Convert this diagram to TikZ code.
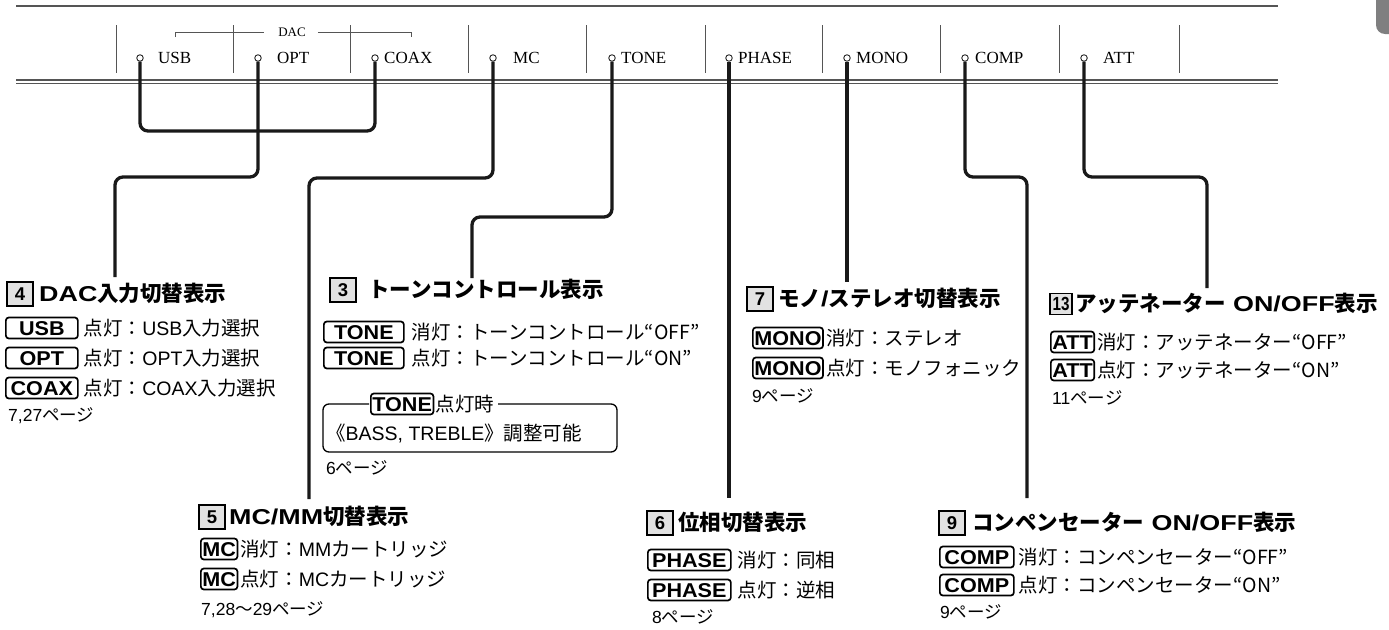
\documentclass[tikz,border=0pt]{standalone}
\usepackage{fontspec}
\setmainfont{Liberation Sans}
\newfontfamily\jpf{Noto Sans CJK JP}
\newfontfamily\serf{Liberation Serif}
\newfontfamily\keyf{Liberation Sans}[FakeStretch=1.08]
\newfontfamily\ttlf{Liberation Sans}[FakeStretch=1.25]
\newfontfamily\narf{Liberation Sans}[FakeStretch=0.8]
\newcommand\JP[1]{{\jpf #1}}
\definecolor{linegray}{HTML}{555555}
\definecolor{tabgray}{HTML}{7F7F80}
\definecolor{numfill}{HTML}{E2E2E2}
\tikzset{
 conn/.style={line width=3.3pt, rounded corners=8pt, black!90},
 rule/.style={line width=1.3pt, linegray},
 sep/.style={line width=0.9pt, linegray},
 led/.style={circle, draw=black!85, line width=0.9pt, inner sep=0pt, minimum size=6.5pt},
 lab/.style={font=\serf\fontsize{17}{18}\selectfont, inner sep=0pt, anchor=west, text height=11pt, text depth=0pt},
 key/.style={draw, line width=1.7pt, rounded corners=3pt, anchor=west, font=\keyf\bfseries\fontsize{20}{22}\selectfont, inner xsep=1.5pt, inner ysep=3.3pt, text height=14.4pt, text depth=0pt},
 body/.style={font=\fontsize{19.5}{21}\selectfont, inner sep=0pt, anchor=west, text height=14pt, text depth=0pt},
 num/.style={draw, fill=numfill, line width=1.3pt, font=\bfseries\fontsize{18.5}{20}\selectfont, minimum width=26pt, minimum height=24pt, inner sep=0pt},
 ttl/.style={font=\ttlf\bfseries\fontsize{21.5}{24}\selectfont, inner sep=0pt, anchor=west, text height=15pt, text depth=0pt},
 pg/.style={font=\fontsize{17.5}{19}\selectfont, inner sep=0pt, anchor=west, text height=12.5pt, text depth=0pt},
 frame/.style={line width=1.3pt, rounded corners=6pt},
}
\begin{document}
\begin{tikzpicture}[x=1pt,y=-1pt]
\useasboundingbox (0,0) rectangle (1389,629);
\begin{scope}
\clip (0,0) rectangle (1389,629);
\fill[tabgray, rounded corners=9pt] (1376,-20) rectangle (1420,34);
\end{scope}
% panel rules
\draw[rule] (16,6) -- (1278,6);
\draw[rule, line width=1.1pt] (16,80) -- (1278,80);
\draw[rule, line width=1.1pt] (16,83.5) -- (1278,83.5);
\foreach \x in {116,233,350,468,586,705,822,940,1059,1179} \draw[sep] (\x,25) -- (\x,73);
% DAC bracket
\node[font=\serf\fontsize{13}{14}\selectfont, inner sep=0pt] (dac) at (292,32) {DAC};
\draw[sep] (175,37) |- ([xshift=-14pt]dac.west);
\draw[sep] ([xshift=12pt]dac.east) -| (411,37);
% indicators
\foreach \n/\cx/\lx/\t in {usb/140/158/USB, opt/258/277/OPT, coax/375/384/COAX, mc/493/513/MC, tone/612/621/TONE, phase/729/738/PHASE, mono/847/856/MONO, comp/965/975/COMP, att/1084/1103/ATT}{
  \node[led] (\n) at (\cx,58) {};
  \node[lab] (\n lab) at (\lx,58) {\t};
}
% connectors
\coordinate (e4) at (115,277);
\coordinate (e5) at (309,499);
\coordinate (e3) at (472,278);
\coordinate (e6) at (729,498);
\coordinate (e7) at (847,282);
\coordinate (e9) at (1027,498);
\coordinate (e13) at (1207,288);
\draw[conn] (usb.south) -- (140,131) -- (375,131) -- (coax.south);
\draw[conn] (opt.south) -- (258,177) -- (115,177) -- (e4);
\draw[conn] (mc.south) -- (493,178) -- (309,178) -- (e5);
\draw[conn] (tone.south) -- (612,217) -- (472,217) -- (e3);
\draw[conn] (phase.south) -- (e6);
\draw[conn] (mono.south) -- (e7);
\draw[conn] (comp.south) -- (965,177) -- (1027,177) -- (e9);
\draw[conn] (att.south) -- (1084,177) -- (1207,177) -- (e13);
% block 4
\node[num] (n4) at (20,294) {4};
\node[ttl] (t4) at (39,294) {DAC\JP{入力切替表示}};
\node[key, minimum width=72pt] (k4a) at (5,328) {USB};
\node[body] (b4a) at ([xshift=5pt]k4a.east) {\JP{点灯：}USB\JP{入力選択}};
\node[key, minimum width=72pt] (k4b) at (5,358) {OPT};
\node[body] (b4b) at ([xshift=5pt]k4b.east) {\JP{点灯：}OPT\JP{入力選択}};
\node[key, minimum width=72pt] (k4c) at (5,388) {COAX};
\node[body] (b4c) at ([xshift=5pt]k4c.east) {\JP{点灯：}COAX\JP{入力選択}};
\node[pg] (p4) at (8,415) {7,27\JP{ページ}};
% block 3
\node[num] (n3) at (343,290) {3};
\node[ttl] (t3) at (368,290) {\JP{トーンコントロール表示}};
\node[key, minimum width=80pt] (k3a) at (323,332) {TONE};
\node[body] (b3a) at ([xshift=7pt]k3a.east) {\JP{消灯：トーンコントロール“OFF”}};
\node[key, minimum width=80pt] (k3b) at (323,358) {TONE};
\node[body] (b3b) at ([xshift=7pt]k3b.east) {\JP{点灯：トーンコントロール“ON”}};
\node[key] (k3c) at (370,404) {TONE};
\node[body] (b3c) at ([xshift=1pt]k3c.east) {\JP{点灯時}};
\draw[frame] ([xshift=-1pt]k3c.west) -- (323,404) -- (323,452) -- (617,452) -- (617,404) -- ([xshift=4pt]b3c.east);
\node[body] (b3d) at (326,433) {\JP{《}BASS, TREBLE\JP{》調整可能}};
\node[pg] (p3) at (326,468) {6\JP{ページ}};
% block 5
\node[num] (n5) at (212,517) {5};
\node[ttl] (t5) at (229,517) {MC/MM\JP{切替表示}};
\node[key, minimum width=35pt] (k5a) at (200,549) {MC};
\node[body] (b5a) at ([xshift=2pt]k5a.east) {\JP{消灯：}MM\JP{カートリッジ}};
\node[key, minimum width=35pt] (k5b) at (200,579) {MC};
\node[body] (b5b) at ([xshift=2pt]k5b.east) {\JP{点灯：}MC\JP{カートリッジ}};
\node[pg] (p5) at (201,609) {7,28\JP{〜}29\JP{ページ}};
% block 6
\node[num] (n6) at (660,523) {6};
\node[ttl] (t6) at (678,523) {\JP{位相切替表示}};
\node[key, minimum width=83pt] (k6a) at (647,560) {PHASE};
\node[body] (b6a) at ([xshift=6pt]k6a.east) {\JP{消灯：同相}};
\node[key, minimum width=83pt] (k6b) at (647,590) {PHASE};
\node[body] (b6b) at ([xshift=6pt]k6b.east) {\JP{点灯：逆相}};
\node[pg] (p6) at (652,617) {8\JP{ページ}};
% block 7
\node[num] (n7) at (760,299) {7};
\node[ttl] (t7) at (778,299) {\JP{モノ}/\JP{ステレオ切替表示}};
\node[key, minimum width=68pt] (k7a) at (752,338) {MONO};
\node[body] (b7a) at ([xshift=2pt]k7a.east) {\JP{消灯：ステレオ}};
\node[key, minimum width=68pt] (k7b) at (752,368) {MONO};
\node[body] (b7b) at ([xshift=2pt]k7b.east) {\JP{点灯：モノフォニック}};
\node[pg] (p7) at (752,396) {9\JP{ページ}};
% block 9
\node[num] (n9) at (952,523) {9};
\node[ttl] (t9) at (972,523) {\JP{コンペンセーター} ON/OFF\JP{表示}};
\node[key, minimum width=74pt] (k9a) at (939,557) {COMP};
\node[body] (b9a) at ([xshift=4pt]k9a.east) {\JP{消灯：コンペンセーター“OFF”}};
\node[key, minimum width=74pt] (k9b) at (939,585) {COMP};
\node[body] (b9b) at ([xshift=4pt]k9b.east) {\JP{点灯：コンペンセーター“ON”}};
\node[pg] (p9) at (940,612) {9\JP{ページ}};
% block 13
\node[num, minimum width=22pt, minimum height=21pt, font=\narf\bfseries\fontsize{19}{20}\selectfont] (n13) at (1061,304) {13};
\node[ttl] (t13) at (1075,304) {\JP{アッテネーター} ON/OFF\JP{表示}};
\node[key, minimum width=42pt] (k13a) at (1050,342) {ATT};
\node[body] (b13a) at ([xshift=2pt]k13a.east) {\JP{消灯：アッテネーター“OFF”}};
\node[key, minimum width=42pt] (k13b) at (1050,370) {ATT};
\node[body] (b13b) at ([xshift=2pt]k13b.east) {\JP{点灯：アッテネーター“ON”}};
\node[pg] (p13) at (1052,398) {11\JP{ページ}};
\end{tikzpicture}
\end{document}
